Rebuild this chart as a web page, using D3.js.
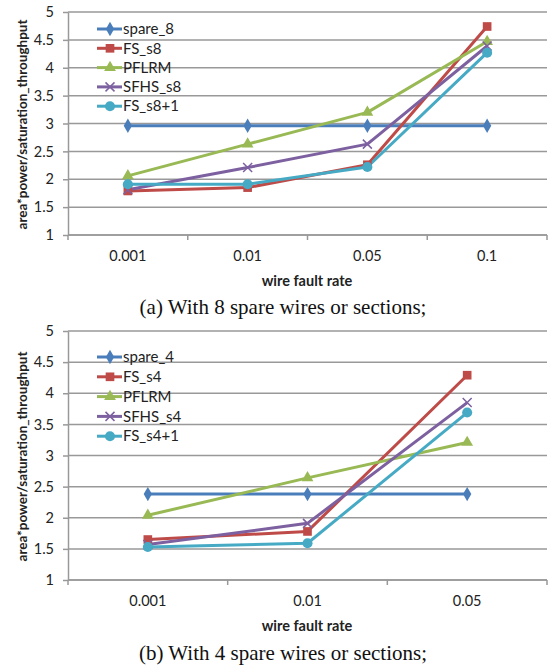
<!DOCTYPE html>
<html><head><meta charset="utf-8">
<script src="https://cdn.jsdelivr.net/npm/d3@7"></script>
<style>
html,body{margin:0;padding:0;background:#fff;}
svg{display:block;}
</style></head>
<body>
<svg id="c" width="556" height="666"></svg>
<script>
// ---- data ----
const catsA = ["0.001", "0.01", "0.05", "0.1"];
const namesA = ["spare_8", "FS_s8", "PFLRM", "SFHS_s8", "FS_s8+1"];
const spare8 = [2.96, 2.96, 2.96, 2.96];
const fsS8 = [1.79, 1.85, 2.26, 4.74];
const pflrmA = [2.06, 2.63, 3.2, 4.47];
const sfhsS8 = [1.81, 2.21, 2.63, 4.39];
const fsS8p1 = [1.91, 1.91, 2.22, 4.27];

const catsB = ["0.001", "0.01", "0.05"];
const namesB = ["spare_4", "FS_s4", "PFLRM", "SFHS_s4", "FS_s4+1"];
const spare4 = [2.38, 2.38, 2.38];
const fsS4 = [1.65, 1.78, 4.29];
const pflrmB = [2.04, 2.64, 3.21];
const sfhsS4 = [1.57, 1.91, 3.85];
const fsS4p1 = [1.53, 1.59, 3.69];

const yTicks = [1, 1.5, 2, 2.5, 3, 3.5, 4, 4.5, 5];
const yTitle = "area*power/saturation_throughput";
const xTitle = "wire fault rate";
const captionA = "(a) With 8 spare wires or sections;";
const captionB = "(b) With 4 spare wires or sections;";

const colors = ["#4A7EBB", "#BE4B48", "#98B954", "#7D60A0", "#46AAC5"];
const markers = ["diamond", "square", "triangle", "cross", "circle"];

const svg = d3.select("#c");
const FONT = "Lato, 'Open Sans', sans-serif";

function marker(g, type, x, y, color) {
  if (type === "cross") {
    const s = 4.5;
    g.append("path").attr("d", `M${x-s},${y-s}L${x+s},${y+s}M${x-s},${y+s}L${x+s},${y-s}`)
      .attr("stroke", color).attr("stroke-width", 1.5).attr("fill", "none");
    return;
  }
  const symMap = {diamond: d3.symbolDiamond, square: d3.symbolSquare, triangle: d3.symbolTriangle, circle: d3.symbolCircle};
  const sizeMap = {diamond: 60, square: 75, triangle: 60, circle: 80};
  g.append("path").attr("d", d3.symbol().type(symMap[type]).size(sizeMap[type])())
    .attr("transform", `translate(${x},${y})`).attr("fill", color);
}

function drawChart(opt) {
  const g = svg.append("g");
  const x = d3.scaleBand().domain(opt.cats).range([68, 547]);
  const y = d3.scaleLinear().domain([1, 5]).range([opt.bottom, opt.top]);

  // gridlines
  g.selectAll(".grid").data(yTicks).enter().append("line")
    .attr("x1", 68).attr("x2", 547)
    .attr("y1", d => y(d)).attr("y2", d => y(d))
    .attr("stroke", "#999").attr("stroke-width", 1.5);

  // y axis
  const ya = g.append("g").attr("transform", "translate(68,0)")
    .call(d3.axisLeft(y).tickValues(yTicks).tickSize(5).tickSizeOuter(0).tickPadding(9).tickFormat(d3.format("")));
  ya.select(".domain").attr("stroke", "#999").attr("stroke-width", 1.5);
  ya.selectAll(".tick line").attr("stroke", "#999").attr("stroke-width", 1.5);
  ya.selectAll("text").attr("font-family", FONT).attr("font-size", 14.5).attr("fill", "#222");

  // x axis
  const xa = g.append("g").attr("transform", `translate(0,${opt.bottom})`)
    .call(d3.axisBottom(x).tickSize(0).tickPadding(16));
  xa.select(".domain").remove();
  xa.selectAll("text").attr("font-family", FONT).attr("font-size", 14.5).attr("fill", "#222");
  g.append("line").attr("x1", 68).attr("x2", 547).attr("y1", opt.bottom).attr("y2", opt.bottom)
    .attr("stroke", "#999").attr("stroke-width", 1.5);
  const bounds = opt.cats.map(c => x(c)).concat([547]);
  g.selectAll(".xt").data(bounds).enter().append("line")
    .attr("x1", d => d).attr("x2", d => d)
    .attr("y1", opt.bottom).attr("y2", opt.bottom + 5)
    .attr("stroke", "#999").attr("stroke-width", 1.5);

  // titles
  g.append("text").attr("x", 307).attr("y", opt.bottom + 51)
    .attr("text-anchor", "middle").attr("font-family", FONT).attr("font-size", 14.5)
    .attr("font-weight", "bold").attr("fill", "#222").text(xTitle);
  g.append("text").attr("transform", `translate(27,${(opt.top + opt.bottom) / 2 + 1}) rotate(-90)`)
    .attr("text-anchor", "middle").attr("font-family", FONT).attr("font-size", 13.5)
    .attr("font-weight", "bold").attr("fill", "#222").text(yTitle);

  // series
  const line = d3.line().x((d, i) => x(opt.cats[i]) + x.bandwidth() / 2).y(d => y(d));
  opt.series.forEach((s, k) => {
    g.append("path").datum(s).attr("d", line).attr("fill", "none")
      .attr("stroke", colors[k]).attr("stroke-width", 3).attr("stroke-linejoin", "round");
  });
  opt.series.forEach((s, k) => {
    s.forEach((v, i) => marker(g, markers[k], x(opt.cats[i]) + x.bandwidth() / 2, y(v), colors[k]));
  });

  // legend
  opt.names.forEach((n, k) => {
    const ly = opt.legTop + k * opt.legStep;
    g.append("line").attr("x1", 97).attr("x2", 122).attr("y1", ly).attr("y2", ly)
      .attr("stroke", colors[k]).attr("stroke-width", 3);
    marker(g, markers[k], 110, ly, colors[k]);
    g.append("text").attr("x", 123).attr("y", ly).attr("dy", "0.35em")
      .attr("font-family", FONT).attr("font-size", 15).attr("fill", "#222").text(n);
  });

  // caption
  svg.append("text").attr("x", 283).attr("y", opt.captionY)
    .attr("text-anchor", "middle").attr("font-family", "'Liberation Serif', serif")
    .attr("font-size", 21).attr("fill", "#111").text(opt.caption);
}

drawChart({cats: catsA, names: namesA, series: [spare8, fsS8, pflrmA, sfhsS8, fsS8p1],
  top: 12, bottom: 235, legTop: 29, legStep: 19.3, caption: captionA, captionY: 314});
drawChart({cats: catsB, names: namesB, series: [spare4, fsS4, pflrmB, sfhsS4, fsS4p1],
  top: 331, bottom: 580, legTop: 357, legStep: 19.8, caption: captionB, captionY: 660});
</script>
</body></html>
